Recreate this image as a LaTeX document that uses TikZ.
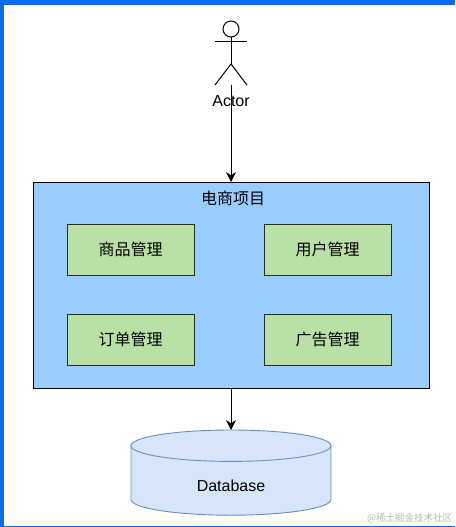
\documentclass[tikz,border=0pt]{standalone}
\usepackage{fontspec}
\setmainfont{Liberation Sans}
\newfontfamily\cjk{Noto Sans CJK SC}
\usetikzlibrary{arrows.meta}

\begin{document}
\begin{tikzpicture}[
  x=1pt,y=-1pt,
  every node/.style={inner sep=0pt,outer sep=0pt},
  appbox/.style={draw=black,line width=1pt,fill=appblue,minimum width=396pt,minimum height=206pt},
  modbox/.style={draw=black!80!modgreen,line width=1pt,fill=modgreen,minimum width=127pt,minimum height=51pt,font=\cjk\fontsize{16}{18}\selectfont},
  dbcyl/.style={draw=dbedge,line width=.9pt,fill=dbblue},
  limb/.style={draw=black,line width=1pt},
  flow/.style={draw=black,line width=1pt,-{Stealth[length=10pt,width=10pt,inset=3.5pt]}}
]
  \definecolor{appblue}{HTML}{99CCFF}
  \definecolor{modgreen}{HTML}{B9E0A5}
  \definecolor{dbblue}{HTML}{D6E5F8}
  \definecolor{dbedge}{HTML}{6C8EBF}
  \definecolor{framebar}{HTML}{0A6CE8}
  \useasboundingbox (0,0) rectangle (455,527);
  % frame
  \fill[framebar] (0,0) rectangle (455,527);
  \fill[white] (3.5,5) rectangle (455,525.5);

  % actor
  \node[draw=black,line width=1pt,circle,minimum size=16pt] (head) at (231,29) {};
  \coordinate (hip) at (231,64);
  \coordinate (handl) at (215,42);
  \coordinate (handr) at (247,42);
  \coordinate (footl) at (215,85);
  \coordinate (footr) at (247,85);
  \coordinate (feet) at (231,85);
  \draw[limb] (head.south) -- (hip);
  \draw[limb] (handl) -- (handr);
  \draw[limb] (footl) -- (hip) -- (footr);
  \node[font=\fontsize{16}{18}\selectfont] (actor) at (231,101) {Actor};

  % project
  \node[appbox] (app) at (231,285) {};
  \node[font=\cjk\fontsize{16}{18}\selectfont] (apptitle) at (233,198) {电商项目};
  \node[modbox] (goods) at (130.5,249.5) {商品管理};
  \node[modbox] (users) at (327.5,249.5) {用户管理};
  \node[modbox] (orders) at (130.5,339.5) {订单管理};
  \node[modbox] (ads) at (327.5,339.5) {广告管理};

  % database
  \coordinate (dbtop) at (231,430);
  \path[dbcyl] (131,445.7) arc[start angle=180,end angle=0,x radius=100pt,y radius=15.7pt]
    -- (331,499.5) arc[start angle=0,end angle=-180,x radius=100pt,y radius=15.7pt] -- cycle;
  \draw[dbcyl,fill=none] (131,445.7) arc[start angle=180,end angle=360,x radius=100pt,y radius=15.7pt];
  \node[font=\fontsize{16}{18}\selectfont] (dbname) at (231,486) {Database};

  \draw[flow] (feet) -- (app.north -| feet);
  \draw[flow] (app.south -| feet) -- (dbtop);

  \node[text=black!27,font=\cjk\fontsize{9.5}{11}\selectfont,anchor=east] (mark) at (452,518) {@稀土掘金技术社区};
\end{tikzpicture}
\end{document}
